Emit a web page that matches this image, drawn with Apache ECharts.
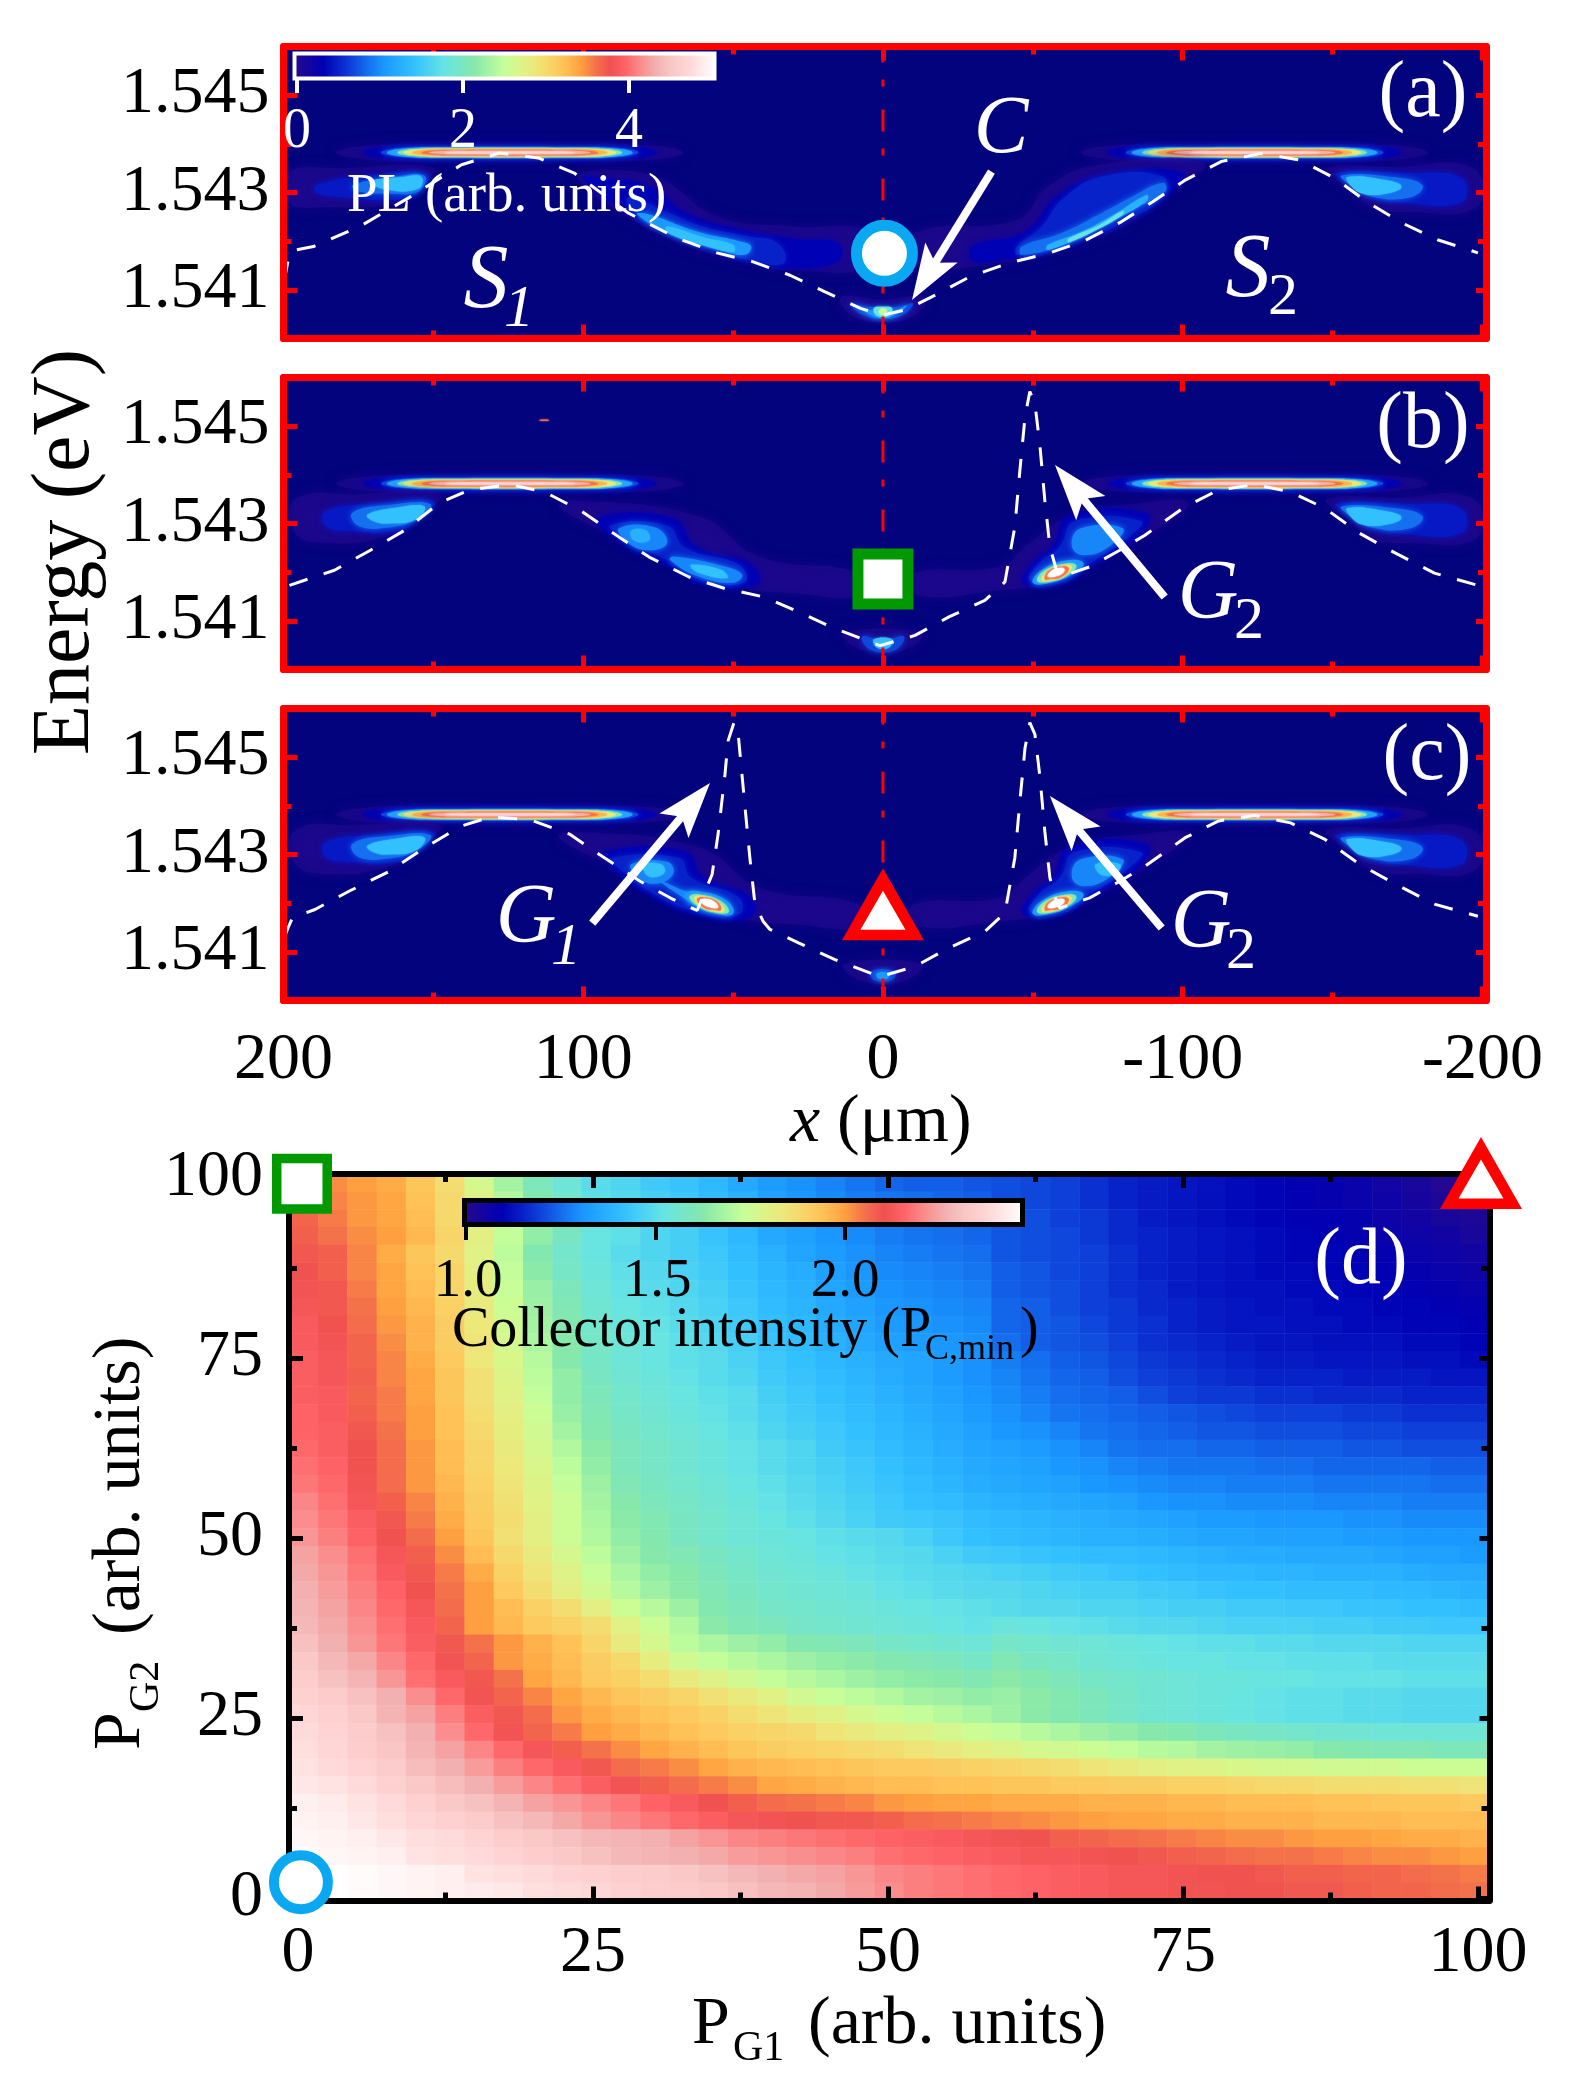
<!DOCTYPE html>
<html>
<head>
<meta charset="utf-8">
<script src="https://cdn.jsdelivr.net/npm/echarts@6/dist/echarts.min.js"></script>
<style>
html, body { margin: 0; padding: 0; background: #fff; }
#container { width: 1570px; height: 2086px; }
</style>
</head>
<body>
<div id="container"></div>
<script>
var colorRamp = ['#2a0a8c','#14059f','#0000b4','#0820c8','#0f46dc','#1470ee','#1a96ff','#26acff','#33c0ff','#4cd2f2','#66e4e4','#76e6c8','#86e8aa','#a6f4a2','#c6ff99','#dcf488','#ece87a','#f8d468','#ffc055','#ffa240','#f4724a','#f05050','#ff6468','#fa8c8c','#f2b0b0','#fac6c6','#ffd4d4','#ffeaea','#ffffff'];
var serif = '"Liberation Serif"';

// dashed potential landscape, [x um, E eV]
var landscapeA = [[199.7,1.5412],[198.5,1.5416],[197.5,1.5418],[190,1.54189],[174.6,1.5423],[158,1.5429],[140.6,1.54357],[128,1.54381],[115,1.54371],[103,1.5434],[85,1.54258],[69,1.54207],[55.4,1.54176],[43.5,1.54158],[31,1.5413],[19.3,1.54096],[7.5,1.54062],[0,1.54048],[-7.7,1.54059],[-17.7,1.5409],[-29,1.54127],[-42,1.54155],[-54.7,1.54174],[-67,1.542],[-79,1.54238],[-90,1.54281],[-101,1.54326],[-113,1.54364],[-126,1.5438],[-139,1.54367],[-150.6,1.5433],[-161.6,1.5428],[-173,1.54238],[-185,1.54203],[-198.5,1.54176]];
var landscapeB = [[198,1.54173],[183,1.54204],[171,1.54245],[159.6,1.54286],[148,1.54342],[138,1.54369],[124.5,1.5438],[113,1.54365],[101,1.54327],[88,1.54272],[78,1.54231],[64.7,1.5419],[53,1.54167],[39.7,1.54149],[28,1.54118],[16,1.54084],[1,1.54049],[-10.7,1.5407],[-22,1.54108],[-34,1.54142],[-40.7,1.5418],[-44,1.54293],[-45.7,1.5441],[-47.4,1.54519],[-49,1.54571],[-50.7,1.54547],[-52.4,1.54458],[-54,1.54348],[-55.7,1.54252],[-57.7,1.54208],[-59,1.5419],[-69,1.54211],[-79,1.54245],[-87.4,1.54276],[-100.7,1.54334],[-112,1.54369],[-124,1.5438],[-136,1.54365],[-147.5,1.54331],[-159,1.5428],[-171,1.54239],[-184,1.54198],[-198.5,1.54173]];
var landscapeC = [[199.7,1.5413],[198.5,1.54149],[197,1.5417],[189.5,1.54187],[178,1.54225],[164.5,1.54266],[154.6,1.54307],[141,1.54358],[131,1.54377],[118,1.54372],[104.6,1.54342],[94.6,1.543],[81,1.54245],[70.7,1.5421],[62,1.54185],[57,1.54259],[55,1.54342],[52.7,1.54465],[51.7,1.54533],[49.7,1.54571],[48.4,1.54554],[46,1.54396],[44.4,1.54293],[42.7,1.54198],[40,1.54163],[37.7,1.54146],[28,1.54118],[16,1.54084],[1,1.54049],[-10.7,1.5407],[-22,1.54108],[-34,1.54142],[-40.7,1.5418],[-44,1.54293],[-45.7,1.5441],[-47.4,1.54519],[-49,1.54571],[-50.7,1.54547],[-52.4,1.54458],[-54,1.54348],[-55.7,1.54252],[-57.7,1.54208],[-59,1.5419],[-69,1.54211],[-79,1.54245],[-87.4,1.54276],[-100.7,1.54334],[-112,1.54369],[-124,1.5438],[-136,1.54365],[-147.5,1.54331],[-159,1.5428],[-171,1.54239],[-184,1.54198],[-198.5,1.54173]];
var centreLine = [[0,1.540],[0,1.546]];

// arrows, [x tail, E tail, x tip, E tip]
var arrowsA = [[-36.2,1.54343,-9.7,1.54079]];
var arrowsB = [[-94,1.54149,-57.4,1.5442]];
var arrowsC = [[97,1.54159,57.7,1.54447],[-93,1.54149,-55.7,1.5442]];

// reservoir bands: [PL level, half length um, half height eV]
var bandCentres = [124.5,-124];
var bandEnergy = 1.54382;
var bandLevels = [[0.05,58,0.00017],[0.36,49,0.00014],[0.72,43,0.000115],[1.2,41,0.000105],[2.16,37.5,0.00009],[2.87,35.5,0.00008],[3.3,32.5,0.00007],[3.6,29.5,0.000055],[4.31,27,0.000035],[4.67,22,0.00002]];

// filled PL contours: [level, [x,E], ...]
var outerLeftA = [
  [0.05,[199,1.5434],[180,1.5435],[150,1.5435],[157,1.543],[165,1.54275],[185,1.5427],[199,1.5428]],
  [0.5,[189,1.54315],[170,1.54336],[152,1.54336],[155,1.543],[162,1.54285],[180,1.5429],[189,1.543]],
  [0.9,[177,1.54315],[165,1.5433],[153,1.54335],[155,1.54302],[165,1.54298],[175,1.54302]],
  [1.44,[171,1.54322],[160,1.54332],[154,1.54332],[155,1.54308],[165,1.54305]]
];
var outerLeftBC = [
  [0.05,[196,1.5435],[175,1.5436],[148,1.5436],[155,1.5431],[165,1.54275],[185,1.5426],[196,1.5428]],
  [0.5,[186,1.54325],[170,1.5434],[150,1.54345],[155,1.5431],[162,1.54285],[178,1.54285],[186,1.54295]],
  [0.9,[177,1.54322],[165,1.54338],[151,1.5434],[155,1.5431],[165,1.54292],[175,1.54295]],
  [1.44,[172,1.54318],[163,1.54332],[153,1.54335],[156,1.54308],[165,1.543],[170,1.54305]]
];
var outerRight = [
  [0.05,[-148,1.5435],[-170,1.54353],[-197,1.5435],[-198,1.5427],[-175,1.5426],[-163,1.5427],[-155,1.5431]],
  [0.5,[-151,1.5434],[-175,1.5434],[-193,1.5433],[-193,1.5428],[-172,1.5428],[-163,1.5429],[-155,1.5432]],
  [0.9,[-153,1.54335],[-170,1.54332],[-180,1.54315],[-176,1.5429],[-163,1.54292],[-156,1.54315]],
  [1.44,[-155,1.54332],[-168,1.54325],[-173,1.54312],[-168,1.54298],[-160,1.54298],[-156,1.54315]]
];
var middleA = [
  [0.05,[95,1.54345],[75,1.5433],[55,1.5425],[30,1.5423],[5,1.5422],[3,1.5415],[31,1.5414],[44,1.54155],[55,1.5417],[69,1.542],[85,1.5425],[102,1.5433]],
  [0.36,[95,1.5433],[77,1.5431],[66,1.54258],[48,1.54223],[28,1.54203],[15,1.54195],[15,1.5416],[31,1.54145],[44,1.54158],[55,1.54178],[69,1.54207],[85,1.54258],[100,1.5433]],
  [0.55,[85,1.5429],[72,1.5426],[60,1.5423],[45,1.5421],[35,1.54195],[33,1.54155],[44,1.5416],[55,1.5418],[69,1.5421],[82,1.5425]],
  [1.1,[78,1.54255],[62,1.5422],[48,1.542],[44,1.5419],[46,1.54172],[55,1.54183],[70,1.54212],[82,1.54255]],
  [1.44,[72,1.5423],[60,1.54208],[50,1.54192],[50,1.54178],[60,1.54192],[72,1.54218]],
  [0.05,[-11,1.54217],[-44.8,1.54244],[-55,1.54312],[-72,1.54357],[-107,1.54361],[-93,1.5429],[-80,1.5423],[-66.6,1.54198],[-53,1.54172],[-42,1.54157],[-11,1.5415]],
  [0.36,[-30,1.5419],[-48,1.5422],[-58,1.5429],[-74,1.54335],[-100,1.5434],[-94,1.5429],[-80,1.5424],[-66.6,1.54205],[-53,1.54178],[-42,1.54165],[-30,1.5416]],
  [0.55,[-44.8,1.54189],[-53,1.5423],[-59.7,1.54285],[-73,1.54333],[-93.4,1.54333],[-93.4,1.54292],[-80,1.54238],[-66.6,1.54203],[-53,1.54176],[-44.8,1.54172]],
  [0.9,[-46.3,1.54189],[-59.7,1.54217],[-73,1.54258],[-83.3,1.54292],[-93.4,1.5432],[-94.2,1.54302],[-83.3,1.54264],[-73,1.5423],[-59.7,1.54192],[-46.3,1.54172]],
  [1.3,[-55,1.54192],[-66,1.54218],[-76,1.5425],[-88,1.54295],[-88,1.54283],[-76,1.5424],[-66,1.54208],[-55,1.54182]],
  [1.8,[-62,1.54205],[-72,1.54232],[-80,1.54262],[-80,1.54255],[-72,1.54226],[-62,1.54198]],
  [0.05,[14,1.54085],[0,1.5408],[-14,1.54085],[-10,1.54045],[0,1.54035],[10,1.54045]],
  [0.72,[11,1.54072],[5,1.54065],[0,1.54065],[-5,1.54065],[-10,1.54072],[-7,1.5405],[0,1.5404],[7,1.5405]],
  [1.1,[9,1.54068],[4,1.54058],[0,1.5406],[-4,1.54058],[-8,1.54068],[-4,1.54048],[0,1.54042],[4,1.54048]],
  [1.8,[3,1.54062],[0,1.54065],[-3,1.54062],[-2,1.54047],[2,1.54047]],
  [2.5,[1,1.5406],[-1,1.5406],[-1,1.5405],[1,1.5405]]
];
var rightMiddleBC = [
  [0.05,[-10,1.54197],[-39,1.54211],[-48,1.54255],[-62,1.54314],[-86,1.54342],[-102,1.54342],[-89,1.54279],[-69,1.54211],[-56,1.54177],[-39,1.54163],[-12,1.54152]],
  [0.36,[-62,1.54315],[-88,1.5432],[-85,1.54272],[-70,1.54215],[-60,1.54178],[-47,1.54178],[-50,1.54218],[-57,1.54255]],
  [0.55,[-64,1.54305],[-86,1.54305],[-82,1.54272],[-69,1.54218],[-59,1.54183],[-49,1.54183],[-52,1.54218],[-59,1.54252]],
  [1.0,[-66,1.5429],[-80,1.5429],[-76,1.54255],[-67,1.54235],[-63,1.54255]],
  [1.1,[-50,1.54178],[-53,1.54205],[-62,1.54225],[-67,1.54218],[-63,1.54195],[-56,1.54178]],
  [2.16,[-51.5,1.54182],[-54,1.54204],[-61.5,1.54218],[-64.5,1.54213],[-62,1.54195],[-56,1.54181]],
  [2.87,[-53,1.54184],[-55,1.54203],[-61,1.54215],[-63,1.54209],[-60,1.5419],[-56,1.54183]],
  [3.6,[-54,1.54187],[-55.5,1.54204],[-60.5,1.54212],[-62,1.54206],[-59.5,1.5419],[-56,1.54186]],
  [5.03,[-55,1.54191],[-56.5,1.54204],[-60,1.54209],[-60.5,1.54202],[-58,1.54192]]
];
var leftMiddleB = [
  [0.05,[104,1.54348],[61,1.54314],[41,1.54231],[8,1.54197],[8,1.54152],[28,1.54156],[48,1.5417],[74,1.54231],[91,1.54279],[108,1.54334]],
  [0.36,[95,1.5431],[70,1.5431],[62,1.5425],[44,1.54215],[42,1.54175],[60,1.54175],[72,1.54215],[87,1.5426]],
  [0.55,[91,1.54296],[72,1.54296],[66,1.5425],[48,1.54215],[46,1.5418],[60,1.54183],[72,1.54225],[85,1.54265]],
  [1.0,[88,1.5429],[76,1.54292],[72,1.5426],[78,1.54245],[85,1.5426]],
  [1.0,[70,1.54232],[55,1.54215],[47,1.54195],[50,1.54178],[62,1.54192],[71,1.54225]],
  [1.44,[64,1.54215],[54,1.54205],[52,1.54188],[62,1.542]],
  [1.3,[84,1.54285],[79,1.54285],[78,1.54265],[83,1.54265]],
  [0.05,[13,1.54075],[-13,1.54075],[-7,1.5404],[7,1.5404]],
  [0.72,[7,1.54068],[0,1.5406],[-7,1.54068],[-4,1.5404],[4,1.5404]],
  [1.44,[3,1.54062],[-3,1.54062],[-2,1.54045],[2,1.54045]],
  [3.6,[114.5,1.54513],[111.5,1.54513],[111.5,1.54511],[114.5,1.54511]]
];
var leftMiddleC = [
  [0.05,[104,1.54348],[61,1.54314],[41,1.54231],[8,1.54197],[8,1.54152],[28,1.54156],[48,1.5417],[74,1.54231],[91,1.54279],[108,1.54334]],
  [0.36,[93,1.54305],[66,1.54305],[60,1.54252],[44,1.54211],[44,1.54172],[61,1.54175],[78,1.54218],[90,1.54272]],
  [0.55,[91,1.54293],[68,1.54293],[64,1.54252],[48,1.54211],[48,1.54177],[61,1.5418],[78,1.54225],[88,1.54272]],
  [1.0,[84,1.5428],[72,1.54285],[70,1.5426],[76,1.5424],[82,1.54255]],
  [1.44,[80,1.54278],[74,1.5428],[73,1.54262],[78,1.54255]],
  [1.0,[74,1.54245],[66,1.54225],[52,1.542],[58,1.54185],[70,1.54225]],
  [1.1,[66,1.54218],[62,1.54225],[52,1.54205],[50,1.54178],[56,1.54178],[63,1.54195]],
  [2.16,[64.5,1.54213],[61.5,1.54218],[54,1.54204],[51.5,1.54182],[56,1.54181],[62,1.54195]],
  [2.87,[63,1.54209],[61,1.54215],[55,1.54203],[53,1.54184],[56,1.54183],[60,1.5419]],
  [3.6,[62,1.54206],[60.5,1.54212],[55.5,1.54204],[54,1.54187],[56,1.54186],[59.5,1.5419]],
  [5.03,[60.5,1.54202],[60,1.54209],[56.5,1.54204],[55,1.54191],[58,1.54192]],
  [1.44,[-71,1.5428],[-79,1.5428],[-78,1.54262],[-73,1.54258]],
  [0.05,[13,1.54075],[-13,1.54075],[-7,1.5404],[7,1.5404]],
  [0.72,[4,1.5406],[-4,1.5406],[-3,1.54042],[3,1.54042]],
  [1.1,[2,1.54056],[-2,1.54056],[-1.5,1.54045],[1.5,1.54045]]
];

// markers
var circleAt = [[-0.5,1.54175]];
var squareAt = [[0,1.54186]];
var triangleAt = [[0,1.54198]];
var circleD = [[0.25,2.2]];
var squareD = [[0.34,99.2]];
var triangleD = [[100.25,100.7]];

// panel (d) axis categories and collector intensity in percent of P_C,min, top row is P_G2 = 100
var pG1 = [0,2.5,5,7.5,10,12.5,15,17.5,20,22.5,25,27.5,30,32.5,35,37.5,40,42.5,45,47.5,50,52.5,55,57.5,60,62.5,65,67.5,70,72.5,75,77.5,80,82.5,85,87.5,90,92.5,95,97.5,100];
var pG2 = pG1.slice();
var collector = [
[205,202,200,198,193,187,177,168,160,155,150,148,145,143,140,136,133,131,129,127,125,124,124,123,122,121,120,118,116,115,114,113,112,111,110,109,108,106,104,102,100],
[206,203,201,199,194,188,179,170,162,157,151,149,146,144,141,138,134,132,130,128,127,126,125,124,122,121,120,118,116,115,114,113,112,111,110,109,108,107,105,103,102],
[207,204,201,199,195,188,180,172,164,158,152,150,147,145,142,139,135,133,131,129,128,127,126,125,123,122,120,119,117,115,114,113,112,111,110,110,109,107,106,104,103],
[208,205,202,200,196,189,181,173,165,159,153,151,148,146,143,140,136,134,132,130,128,127,126,125,123,122,121,119,117,116,115,114,113,112,111,110,109,108,107,106,104],
[209,208,203,198,193,188,180,172,162,157,153,150,148,146,144,141,138,135,133,131,129,128,127,126,123,122,121,120,118,116,115,114,113,112,111,111,110,109,108,107,106],
[210,208,203,199,194,189,181,173,164,158,154,151,149,147,145,142,139,137,134,132,130,129,128,127,124,123,121,120,118,116,115,114,113,112,112,111,111,110,109,108,107],
[211,209,204,199,195,189,182,174,166,160,155,152,150,148,146,143,140,138,135,133,131,130,129,128,124,123,122,120,118,117,115,114,113,113,112,112,111,111,110,109,108],
[212,209,205,200,196,190,183,175,167,161,156,153,151,149,147,144,141,139,136,134,132,131,130,129,125,124,122,120,119,117,116,115,114,113,113,112,112,111,111,110,109],
[213,210,206,201,197,191,184,176,168,162,157,154,152,150,148,145,142,140,137,135,133,132,131,130,125,124,123,121,119,118,116,115,114,114,113,113,112,112,111,111,110],
[213,211,207,202,197,191,185,177,169,163,158,155,153,151,149,146,143,141,138,136,134,133,132,131,126,124,123,122,120,118,117,116,115,114,114,113,113,113,112,112,111],
[214,212,207,203,198,192,184,178,171,163,158,155,153,151,150,147,144,142,140,138,136,135,133,131,128,126,124,123,121,119,118,117,116,115,115,114,114,114,113,113,112],
[214,212,208,203,199,193,186,179,172,165,159,156,154,152,150,148,145,143,141,139,137,135,133,131,129,127,125,124,122,120,119,118,117,116,116,116,115,115,115,114,114],
[214,213,207,204,199,193,186,180,173,165,160,157,155,153,151,150,146,144,142,140,138,136,134,132,130,128,126,125,124,122,120,119,119,118,118,117,117,117,116,116,116],
[215,213,208,204,200,194,187,181,175,166,161,158,156,154,152,150,147,145,143,141,139,137,135,133,131,129,127,126,125,124,123,122,121,120,120,120,119,119,118,118,118],
[215,214,209,205,200,194,188,182,176,168,162,159,157,155,153,151,148,146,144,142,140,138,136,134,132,131,129,127,126,125,124,123,123,122,122,122,121,121,120,120,120],
[216,214,210,206,201,195,189,183,177,170,164,160,158,156,154,152,150,148,145,143,141,139,137,135,134,133,131,129,127,126,126,125,125,124,124,124,123,123,122,122,122],
[217,215,210,206,201,195,189,184,178,172,165,160,158,156,154,152,150,148,146,144,142,140,138,136,135,134,132,131,129,128,127,127,127,126,126,125,125,125,125,124,124],
[218,216,211,206,201,196,190,185,179,173,167,161,159,157,155,153,151,149,147,145,143,141,139,137,136,135,134,132,131,130,129,129,128,128,128,127,127,127,127,126,126],
[220,217,212,208,203,197,191,186,180,175,168,163,160,158,156,154,152,150,148,146,144,142,141,139,138,137,136,135,134,132,131,131,130,130,130,129,129,129,128,128,128],
[221,218,214,209,204,198,192,187,181,175,169,164,161,159,157,155,153,151,149,147,145,144,143,141,140,139,138,137,136,135,134,133,133,132,132,132,131,131,130,130,130],
[222,219,215,210,206,200,193,186,181,175,170,165,162,159,157,155,154,153,151,150,149,147,144,142,141,140,139,138,138,137,136,135,135,134,134,134,133,133,132,132,132],
[224,221,217,212,208,202,195,188,183,177,172,167,163,161,159,157,155,154,152,151,150,149,147,145,144,143,142,141,141,140,139,138,137,137,136,136,136,135,134,134,133],
[225,222,218,213,209,204,198,190,185,179,174,169,165,163,160,158,156,155,154,152,151,150,149,148,147,146,145,144,143,142,141,140,140,139,139,138,138,138,137,136,136],
[226,223,219,215,210,205,200,192,187,181,176,171,167,164,161,159,157,156,155,154,152,151,150,149,149,148,147,146,146,145,144,143,142,142,141,141,141,140,140,139,138],
[227,224,220,216,212,206,200,195,190,187,181,175,171,167,162,160,158,157,156,155,154,153,152,151,150,149,149,148,148,147,146,146,145,145,144,144,143,143,142,142,141],
[228,225,221,217,213,207,200,196,192,190,187,180,175,170,164,161,160,158,157,156,155,154,153,152,154,153,152,151,150,149,149,148,147,147,147,146,146,145,145,144,144],
[230,226,222,218,214,209,205,201,197,194,189,183,177,172,169,167,165,162,161,160,158,157,156,155,158,157,156,155,154,153,152,151,151,150,150,149,149,149,148,148,148],
[232,228,225,220,216,211,207,201,198,195,191,188,182,176,173,171,169,167,165,164,162,161,160,158,161,159,158,156,155,154,153,153,152,152,151,151,151,150,150,150,150],
[234,230,227,222,217,213,209,205,199,196,192,190,187,183,179,176,173,171,169,167,165,164,163,161,164,162,160,158,157,156,155,154,154,153,153,152,152,152,151,151,151],
[235,233,230,226,221,216,211,207,203,199,196,193,191,189,186,183,180,176,174,172,170,168,167,165,166,164,162,160,158,156,155,154,153,152,151,151,150,150,149,149,149],
[237,235,232,227,224,219,214,209,206,201,198,196,194,192,190,187,185,182,180,177,175,173,171,169,167,164,162,160,158,156,155,154,153,152,151,151,150,150,149,149,149],
[238,236,233,230,226,221,216,211,207,204,200,198,196,194,192,190,189,188,185,183,181,179,177,175,173,171,169,167,165,163,162,160,159,158,157,156,156,155,155,155,155],
[239,237,234,231,227,224,220,216,212,208,205,202,199,197,195,193,191,190,189,188,187,185,183,181,179,177,176,175,173,171,170,168,167,166,165,163,162,161,161,160,160],
[240,238,236,233,229,226,223,219,216,213,209,206,204,202,199,197,196,195,194,193,192,192,191,190,189,188,187,185,183,181,180,179,178,177,177,176,176,176,175,175,175],
[241,240,238,235,232,229,226,223,220,217,214,211,208,206,204,202,199,198,197,196,195,195,194,194,193,193,192,192,191,191,190,190,189,188,188,187,187,187,186,186,185],
[243,242,240,238,235,232,230,227,224,222,220,218,215,213,210,208,206,205,204,203,201,200,199,199,198,198,198,197,197,197,196,196,195,195,195,194,194,193,193,193,192],
[244,243,241,239,237,235,233,230,228,225,222,220,218,216,214,212,211,210,209,209,208,206,205,204,203,202,201,200,199,199,198,198,197,197,197,196,196,196,195,195,195],
[245,244,243,241,239,238,236,234,232,230,228,227,226,224,222,220,219,218,217,216,215,214,213,212,211,210,208,207,206,205,204,203,202,202,201,200,200,199,198,198,197],
[246,245,244,243,240,239,238,236,234,232,230,228,227,226,225,223,222,221,220,219,217,216,215,214,213,212,212,211,210,209,208,207,206,205,205,204,203,202,202,201,200],
[247,247,246,245,244,243,240,239,238,236,235,234,233,232,230,228,226,225,224,222,220,219,218,217,216,215,214,213,212,212,211,210,210,209,208,208,207,207,206,205,204],
[247,247,246,245,244,243,242,241,239,238,237,235,234,233,232,230,228,227,225,223,221,219,218,217,216,215,214,213,212,212,211,211,210,210,209,209,208,207,207,206,205]
];

function makeBandContours() {
    var out = [];
    bandCentres.forEach(function (xc) {
        bandLevels.forEach(function (b) {
            var L = b[1], h = b[2], E = bandEnergy;
            out.push([b[0],[xc-L,E],[xc-0.85*L,E+0.8*h],[xc-0.5*L,E+h],[xc+0.5*L,E+h],[xc+0.85*L,E+0.8*h],[xc+L,E],[xc+0.85*L,E-0.8*h],[xc+0.5*L,E-h],[xc-0.5*L,E-h],[xc-0.85*L,E-0.8*h]]);
        });
    });
    return out;
}

var chart = echarts.init(document.getElementById('container'));
var xAxes = [], yAxes = [], grids = [], series = [], graphics = [];

function tickAxis(list, dim, pos, grid, range, values, len, color, lineW, tickW, label, inverse) {
    list.push({
        type: 'value', gridIndex: grid, position: pos, min: range[0], max: range[1], inverse: !!inverse, z: 5,
        splitLine: { show: false },
        axisLine: { show: lineW > 0, onZero: false, lineStyle: { color: color, width: lineW } },
        axisTick: { show: true, inside: true, length: len, customValues: values, lineStyle: { color: color, width: tickW } },
        axisLabel: label ? { show: true, customValues: values, margin: label.margin, padding: label.padding || 0, formatter: label.formatter, color: '#000', fontFamily: serif, fontSize: 66 } : { show: false }
    });
}

// adds four sides of ticks for one grid, returns first x and y axis index
function addAxes(grid, xr, yr, xMaj, xMin, yMaj, yMin, color, frameW, xLabel, yLabel, inv) {
    var xi = xAxes.length, yi = yAxes.length;
    tickAxis(xAxes, 'x', 'bottom', grid, xr, xMaj, 14, color, frameW, 5, xLabel, inv);
    tickAxis(xAxes, 'x', 'bottom', grid, xr, xMin, 8, color, 0, 5, null, inv);
    tickAxis(xAxes, 'x', 'top', grid, xr, xMaj, 14, color, frameW, 5, null, inv);
    tickAxis(xAxes, 'x', 'top', grid, xr, xMin, 8, color, 0, 5, null, inv);
    tickAxis(yAxes, 'y', 'left', grid, yr, yMaj, 14, color, frameW, 5, yLabel);
    tickAxis(yAxes, 'y', 'left', grid, yr, yMin, 8, color, 0, 5, null);
    tickAxis(yAxes, 'y', 'right', grid, yr, yMaj, 10, color, frameW, 5, null);
    tickAxis(yAxes, 'y', 'right', grid, yr, yMin, 8, color, 0, 5, null);
    return [xi, yi];
}

function contourSeries(list, ax) {
    return {
        type: 'custom', xAxisIndex: ax[0], yAxisIndex: ax[1], silent: true, z: 2, clip: true,
        data: list.map(function (c, i) { return [c[0], i]; }),
        renderItem: function (params, api) {
            var level = api.value(0);
            var pts = list[api.value(1)].slice(1).map(function (p) { return api.coord(p); });
            var col = api.visual('color');
            var blur = level < 0.2 ? 12 : level < 1.2 ? 6 : 2;
            return { type: 'polygon', shape: { points: pts, smooth: 0.45 }, style: { fill: col, shadowColor: col, shadowBlur: blur, opacity: level < 0.2 ? 0.5 : 1 } };
        }
    };
}
function arrowSeries(list, ax) {
    return {
        type: 'custom', xAxisIndex: ax[0], yAxisIndex: ax[1], silent: true, z: 6, clip: false,
        data: list,
        renderItem: function (params, api) {
            var a = api.coord([api.value(0), api.value(1)]), b = api.coord([api.value(2), api.value(3)]);
            var dx = a[0]-b[0], dy = a[1]-b[1], n = Math.sqrt(dx*dx+dy*dy);
            dx /= n; dy /= n;
            var px = -dy, py = dx;
            return { type: 'group', children: [
                { type: 'line', shape: { x1: a[0], y1: a[1], x2: b[0]+dx*40, y2: b[1]+dy*40 }, style: { stroke: '#fff', lineWidth: 8 } },
                { type: 'polygon', shape: { points: [b, [b[0]+dx*56+px*19, b[1]+dy*56+py*19], [b[0]+dx*44, b[1]+dy*44], [b[0]+dx*56-px*19, b[1]+dy*56-py*19]] }, style: { fill: '#fff' } }
            ] };
        }
    };
}
function lineSeries(data, ax, style, z) {
    return { type: 'line', xAxisIndex: ax[0], yAxisIndex: ax[1], data: data, showSymbol: false, silent: true, z: z, smooth: false, lineStyle: style };
}
function markerSeries(data, ax, symbol, size, fill, border, borderW, offset) {
    return {
        type: 'scatter', xAxisIndex: ax[0], yAxisIndex: ax[1], data: data, symbol: symbol, symbolSize: size, symbolOffset: offset || [0,0],
        clip: false, silent: true, z: 7, itemStyle: { color: fill, borderColor: border, borderWidth: borderW, opacity: 1 }
    };
}

// panels (a)-(c)
var xRange = [-201.2, 200];
var yRange = [1.540, 1.546];
var xMajor = [-200,-100,0,100,200], xMinor = [-150,-50,50,150];
var yMajor = [1.541,1.543,1.545], yMinor = [1.542,1.544];
var panelTops = [46.5, 377.5, 708.5];
var fmtE = function (v) { return v.toFixed(3); };
var fmtX = function (v) { return String(v); };
var bands = makeBandContours();
var contours = [
    bands.concat(outerLeftA, outerRight, middleA),
    bands.concat(outerLeftBC, outerRight, leftMiddleB, rightMiddleBC),
    bands.concat(outerLeftBC, outerRight, rightMiddleBC, leftMiddleC)
];
var panelAxes = panelTops.map(function (top, i) {
    grids.push({ left: 283.5, top: top, width: 1202.5, height: 292, backgroundColor: '#04037e', show: true, borderWidth: 0 });
    return addAxes(i, xRange, yRange, xMajor, xMinor, yMajor, yMinor, '#ff0000', 7,
        i === 2 ? { margin: 27, formatter: fmtX } : null, { margin: 14, padding: [5,0,0,0], formatter: fmtE }, true);
});
panelAxes.forEach(function (ax, i) { series.push(contourSeries(contours[i], ax)); });

// panel (d)
grids.push({ left: 289, top: 1174, width: 1200.5, height: 726.5 });
var dCatX = xAxes.length, dCatY = yAxes.length;
xAxes.push({ type: 'category', gridIndex: 3, data: pG1, show: false, boundaryGap: true });
yAxes.push({ type: 'category', gridIndex: 3, data: pG2, show: false, boundaryGap: true });
var dAxes = addAxes(3, [-0.76, 100.97], [-0.35, 100.55], [0,25,50,75,100], [12.5,37.5,62.5,87.5], [0,25,50,75,100], [12.5,37.5,62.5,87.5], '#000', 6,
    { margin: 20, formatter: fmtX }, { margin: 26, padding: [6,0,0,0], formatter: fmtX }, false);
var heatData = [];
collector.forEach(function (row, r) {
    row.forEach(function (v, c) { heatData.push([c, collector.length - 1 - r, v]); });
});
series.push({ type: 'heatmap', xAxisIndex: dCatX, yAxisIndex: dCatY, data: heatData, silent: true, z: 2, progressive: 0, itemStyle: { borderWidth: 0 } });

var dashStyle = { color: '#fff', width: 3, type: [19, 17] };
series.push(lineSeries(landscapeA, panelAxes[0], dashStyle, 4));
series.push(lineSeries(landscapeB, panelAxes[1], dashStyle, 4));
series.push(lineSeries(landscapeC, panelAxes[2], dashStyle, 4));
panelAxes.forEach(function (ax) {
    series.push(lineSeries(centreLine, ax, { color: '#ff0000', width: 3, type: [22, 23, 7, 17] }, 3));
});
series.push(arrowSeries(arrowsA, panelAxes[0]));
series.push(arrowSeries(arrowsB, panelAxes[1]));
series.push(arrowSeries(arrowsC, panelAxes[2]));
series.push(markerSeries(circleAt, panelAxes[0], 'circle', 56, '#fff', '#0aa8f2', 11));
series.push(markerSeries(squareAt, panelAxes[1], 'rect', 50, '#fff', '#009900', 11));
series.push(markerSeries(triangleAt, panelAxes[2], 'triangle', [82, 72], '#ff0000', '#ff0000', 0));
series.push(markerSeries(triangleAt, panelAxes[2], 'triangle', [45, 39], '#fff', '#fff', 0, [0, 6]));
series.push(markerSeries(circleD, dAxes, 'circle', 54, '#fff', '#0aa8f2', 10));
series.push(markerSeries(squareD, dAxes, 'rect', 50.5, '#fff', '#009900', 9.5));
series.push(markerSeries(triangleD, dAxes, 'triangle', [82, 72], '#ff0000', '#ff0000', 0));
series.push(markerSeries(triangleD, dAxes, 'triangle', [45, 39], '#fff', '#fff', 0, [0, 6]));

// text helpers
function txt(x, y, s, size, opt) {
    opt = opt || {};
    graphics.push({
        type: 'text', x: x, y: y, rotation: opt.rot || 0, z: 20, silent: true,
        style: { text: s, font: (opt.italic ? 'italic ' : '') + size + 'px ' + serif, fill: opt.fill || '#000', align: opt.align || 'center', verticalAlign: 'middle' }
    });
}
function barBox(x, y, w, h, stroke, sw) {
    var stops = colorRamp.map(function (c, i) { return { offset: i / (colorRamp.length - 1), color: c }; });
    graphics.push({
        type: 'rect', z: 19, silent: true, shape: { x: x, y: y, width: w, height: h },
        style: { fill: new echarts.graphic.LinearGradient(0, 0, 1, 0, stops), stroke: stroke, lineWidth: sw }
    });
}
function tickRect(x, y, w, h, fill) {
    graphics.push({ type: 'rect', z: 19, silent: true, shape: { x: x, y: y, width: w, height: h }, style: { fill: fill } });
}

// PL colour bar
barBox(294.5, 53.5, 420, 25, '#fff', 4);
[297, 463, 629].forEach(function (x) { tickRect(x - 2, 80, 4, 13, '#fff'); });
txt(297, 132, '0', 56, { fill: '#fff' });
txt(463, 132, '2', 56, { fill: '#fff' });
txt(629, 132, '4', 56, { fill: '#fff' });
txt(347, 197, 'PL (arb. units)', 55, { fill: '#fff', align: 'left' });

// panel letters and labels
txt(1423, 95, '(a)', 80, { fill: '#fff' });
txt(1423, 426, '(b)', 80, { fill: '#fff' });
txt(1427, 758, '(c)', 80, { fill: '#fff' });
txt(1361, 1262, '(d)', 80, { fill: '#fff' });
txt(1001, 130, 'C', 82, { fill: '#fff', italic: true });
txt(486, 283, 'S', 90, { fill: '#fff', italic: true });
txt(519, 310, '1', 60, { fill: '#fff', italic: true });
txt(1248, 272, 'S', 90, { fill: '#fff', italic: true });
txt(1283, 298, '2', 60, { fill: '#fff' });
txt(1208, 596, 'G', 84, { fill: '#fff', italic: true });
txt(1249, 622, '2', 60, { fill: '#fff' });
txt(526, 920, 'G', 84, { fill: '#fff', italic: true });
txt(566, 948, '1', 60, { fill: '#fff', italic: true });
txt(1201, 925, 'G', 84, { fill: '#fff', italic: true });
txt(1241, 952, '2', 60, { fill: '#fff' });

// axis titles
txt(66, 552, 'Energy (eV)', 82, { rot: Math.PI / 2 });
txt(790, 1123, 'x', 68, { italic: true, align: 'left' });
txt(837, 1123, '(\u03bcm)', 68, { align: 'left' });
txt(692, 2025, 'P', 68, { align: 'left' });
txt(733, 2049, 'G1', 42, { align: 'left' });
txt(808, 2025, '(arb. units)', 68, { align: 'left' });
txt(121, 1750, 'P', 68, { rot: Math.PI / 2, align: 'left' });
txt(147, 1712, 'G2', 42, { rot: Math.PI / 2, align: 'left' });
txt(121, 1635, '(arb. units)', 68, { rot: Math.PI / 2, align: 'left' });

// collector colour bar
barBox(464.5, 1200.5, 558, 24, '#000', 5);
[466, 656, 845].forEach(function (x) { tickRect(x - 2, 1226, 4, 14, '#000'); });
txt(468, 1282, '1.0', 55);
txt(657, 1282, '1.5', 55);
txt(845, 1282, '2.0', 55);
txt(452, 1331, 'Collector intensity (P', 56, { align: 'left' });
txt(925, 1350, 'C,min', 36, { align: 'left' });
txt(1020, 1331, ')', 56, { align: 'left' });

chart.setOption({
    animation: false,
    backgroundColor: '#fff',
    grid: grids,
    xAxis: xAxes,
    yAxis: yAxes,
    visualMap: [
        { show: false, seriesIndex: [0, 1, 2], dimension: 0, min: 0, max: 5.03, inRange: { color: colorRamp } },
        { show: false, seriesIndex: [3], dimension: 2, min: 100, max: 247, inRange: { color: colorRamp } }
    ],
    series: series,
    graphic: graphics
});
</script>
</body>
</html>
